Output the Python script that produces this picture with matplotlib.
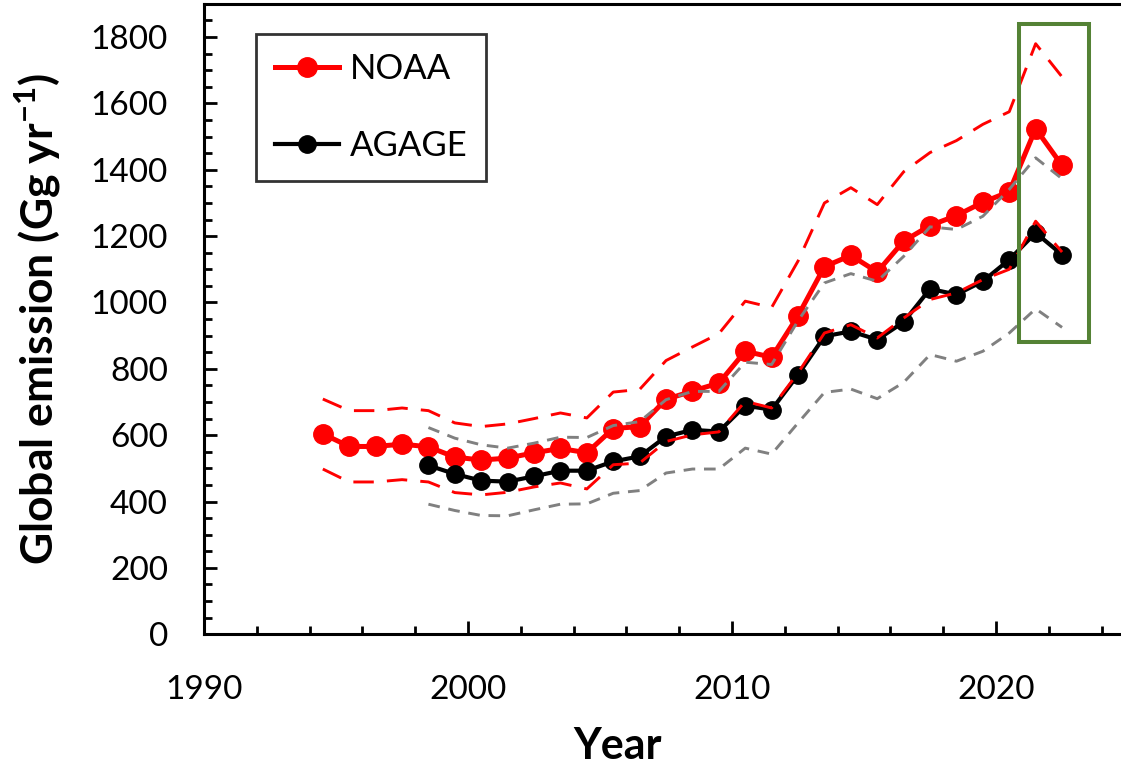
import matplotlib
matplotlib.use('Agg')
import matplotlib.pyplot as plt
from matplotlib.patches import Rectangle
from matplotlib.ticker import MultipleLocator

plt.rcParams['font.family'] = ['Lato', 'DejaVu Sans']
plt.rcParams['mathtext.fontset'] = 'custom'
plt.rcParams['mathtext.rm'] = 'Lato'
plt.rcParams['mathtext.bf'] = 'Lato:bold'

# NOAA estimates, 1994.5 .. 2022.5
noaa_years = [1994.5 + i for i in range(29)]
noaa = [604, 566, 566, 573, 565, 534, 525, 531, 547, 560, 547,
        620, 626, 708, 733, 757, 853, 835, 960, 1108, 1142, 1092,
        1185, 1232, 1262, 1302, 1334, 1524, 1413]
noaa_hi = [709, 674, 674, 682, 674, 637, 626, 634, 650, 667, 652,
           730, 738, 825, 866, 906, 1004, 985, 1125, 1300, 1346, 1295,
           1394, 1452, 1488, 1537, 1575, 1780, 1680]
noaa_lo = [498, 459, 459, 466, 459, 427, 420, 428, 444, 456, 438,
           511, 516, 581, 601, 610, 702, 682, 788, 908, 933, 893,
           953, 1009, 1029, 1069, 1100, 1245, 1152]

# AGAGE estimates, 1998.5 .. 2022.5
agage_years = [1998.5 + i for i in range(25)]
agage = [509, 483, 463, 460, 476, 493, 493, 521, 536, 596, 616,
         611, 689, 677, 782, 898, 913, 888, 941, 1041, 1024, 1064,
         1129, 1210, 1144]
agage_hi = [623, 591, 571, 561, 576, 594, 593, 629, 641, 707, 732,
            732, 820, 813, 945, 1059, 1087, 1064, 1139, 1228, 1220, 1260,
            1341, 1436, 1373]
agage_lo = [392, 373, 358, 357, 375, 392, 393, 425, 433, 486, 498,
            498, 561, 543, 637, 729, 739, 710, 759, 843, 823, 853,
            908, 981, 925]

# highlight box (data units)
box_x0, box_x1 = 2020.86, 2023.53
box_y0, box_y1 = 880, 1838

fig = plt.figure(figsize=(11.21, 7.66), dpi=100)
ax = fig.add_axes([0.182, 0.172, 0.8243, 0.8229])

ax.plot(noaa_years, noaa, color='red', lw=3.6, marker='o', ms=14,
        label='NOAA', zorder=3)
ax.plot(agage_years, agage, color='black', lw=3, marker='o', ms=12.5,
        label='AGAGE', zorder=3)

red_dash = (0, (7, 4.5))
gray_dash = (0, (4, 3))
ax.plot(noaa_years, noaa_hi, color='red', lw=2.1, linestyle=red_dash, zorder=4)
ax.plot(noaa_years, noaa_lo, color='red', lw=2.1, linestyle=red_dash, zorder=4)
ax.plot(agage_years, agage_hi, color='gray', lw=2.1, linestyle=gray_dash, zorder=4)
ax.plot(agage_years, agage_lo, color='gray', lw=2.1, linestyle=gray_dash, zorder=4)

ax.add_patch(Rectangle((box_x0, box_y0), box_x1 - box_x0, box_y1 - box_y0,
                       fill=False, edgecolor='#548235', lw=2.9, zorder=5))

ax.set_xlim(1990, 2025)
ax.set_ylim(0, 1900)
ax.xaxis.set_major_locator(MultipleLocator(10))
ax.xaxis.set_minor_locator(MultipleLocator(2))
ax.yaxis.set_major_locator(MultipleLocator(200))
ax.yaxis.set_minor_locator(MultipleLocator(50))
ax.set_yticks(range(0, 1801, 200))

ax.tick_params(which='both', direction='in', width=2, labelsize=24,
               top=False, right=False)
ax.tick_params(which='major', length=9.5)
ax.tick_params(which='minor', length=6)
ax.tick_params(axis='y', which='major', pad=26)
ax.tick_params(axis='x', which='major', pad=29)
for s in ax.spines.values():
    s.set_linewidth(2.2)

ax.set_xlabel('Year', fontsize=31, fontweight='bold')
ax.xaxis.set_label_coords(0.448, -0.145)
ax.set_ylabel(r'Global emission (Gg yr$^{\mathbf{-1}}$)', fontsize=32,
              fontweight='bold')
ax.yaxis.set_label_coords(-0.153, 0.5)

leg = ax.legend(loc='upper left', bbox_to_anchor=(0.056, 0.952), fontsize=25,
                frameon=True, fancybox=False, edgecolor='black',
                labelspacing=1.3, handlelength=1.85, handletextpad=0.3,
                borderpad=0.55, borderaxespad=0)
leg.get_frame().set_linewidth(2)

fig.savefig('out.png', dpi=100)
